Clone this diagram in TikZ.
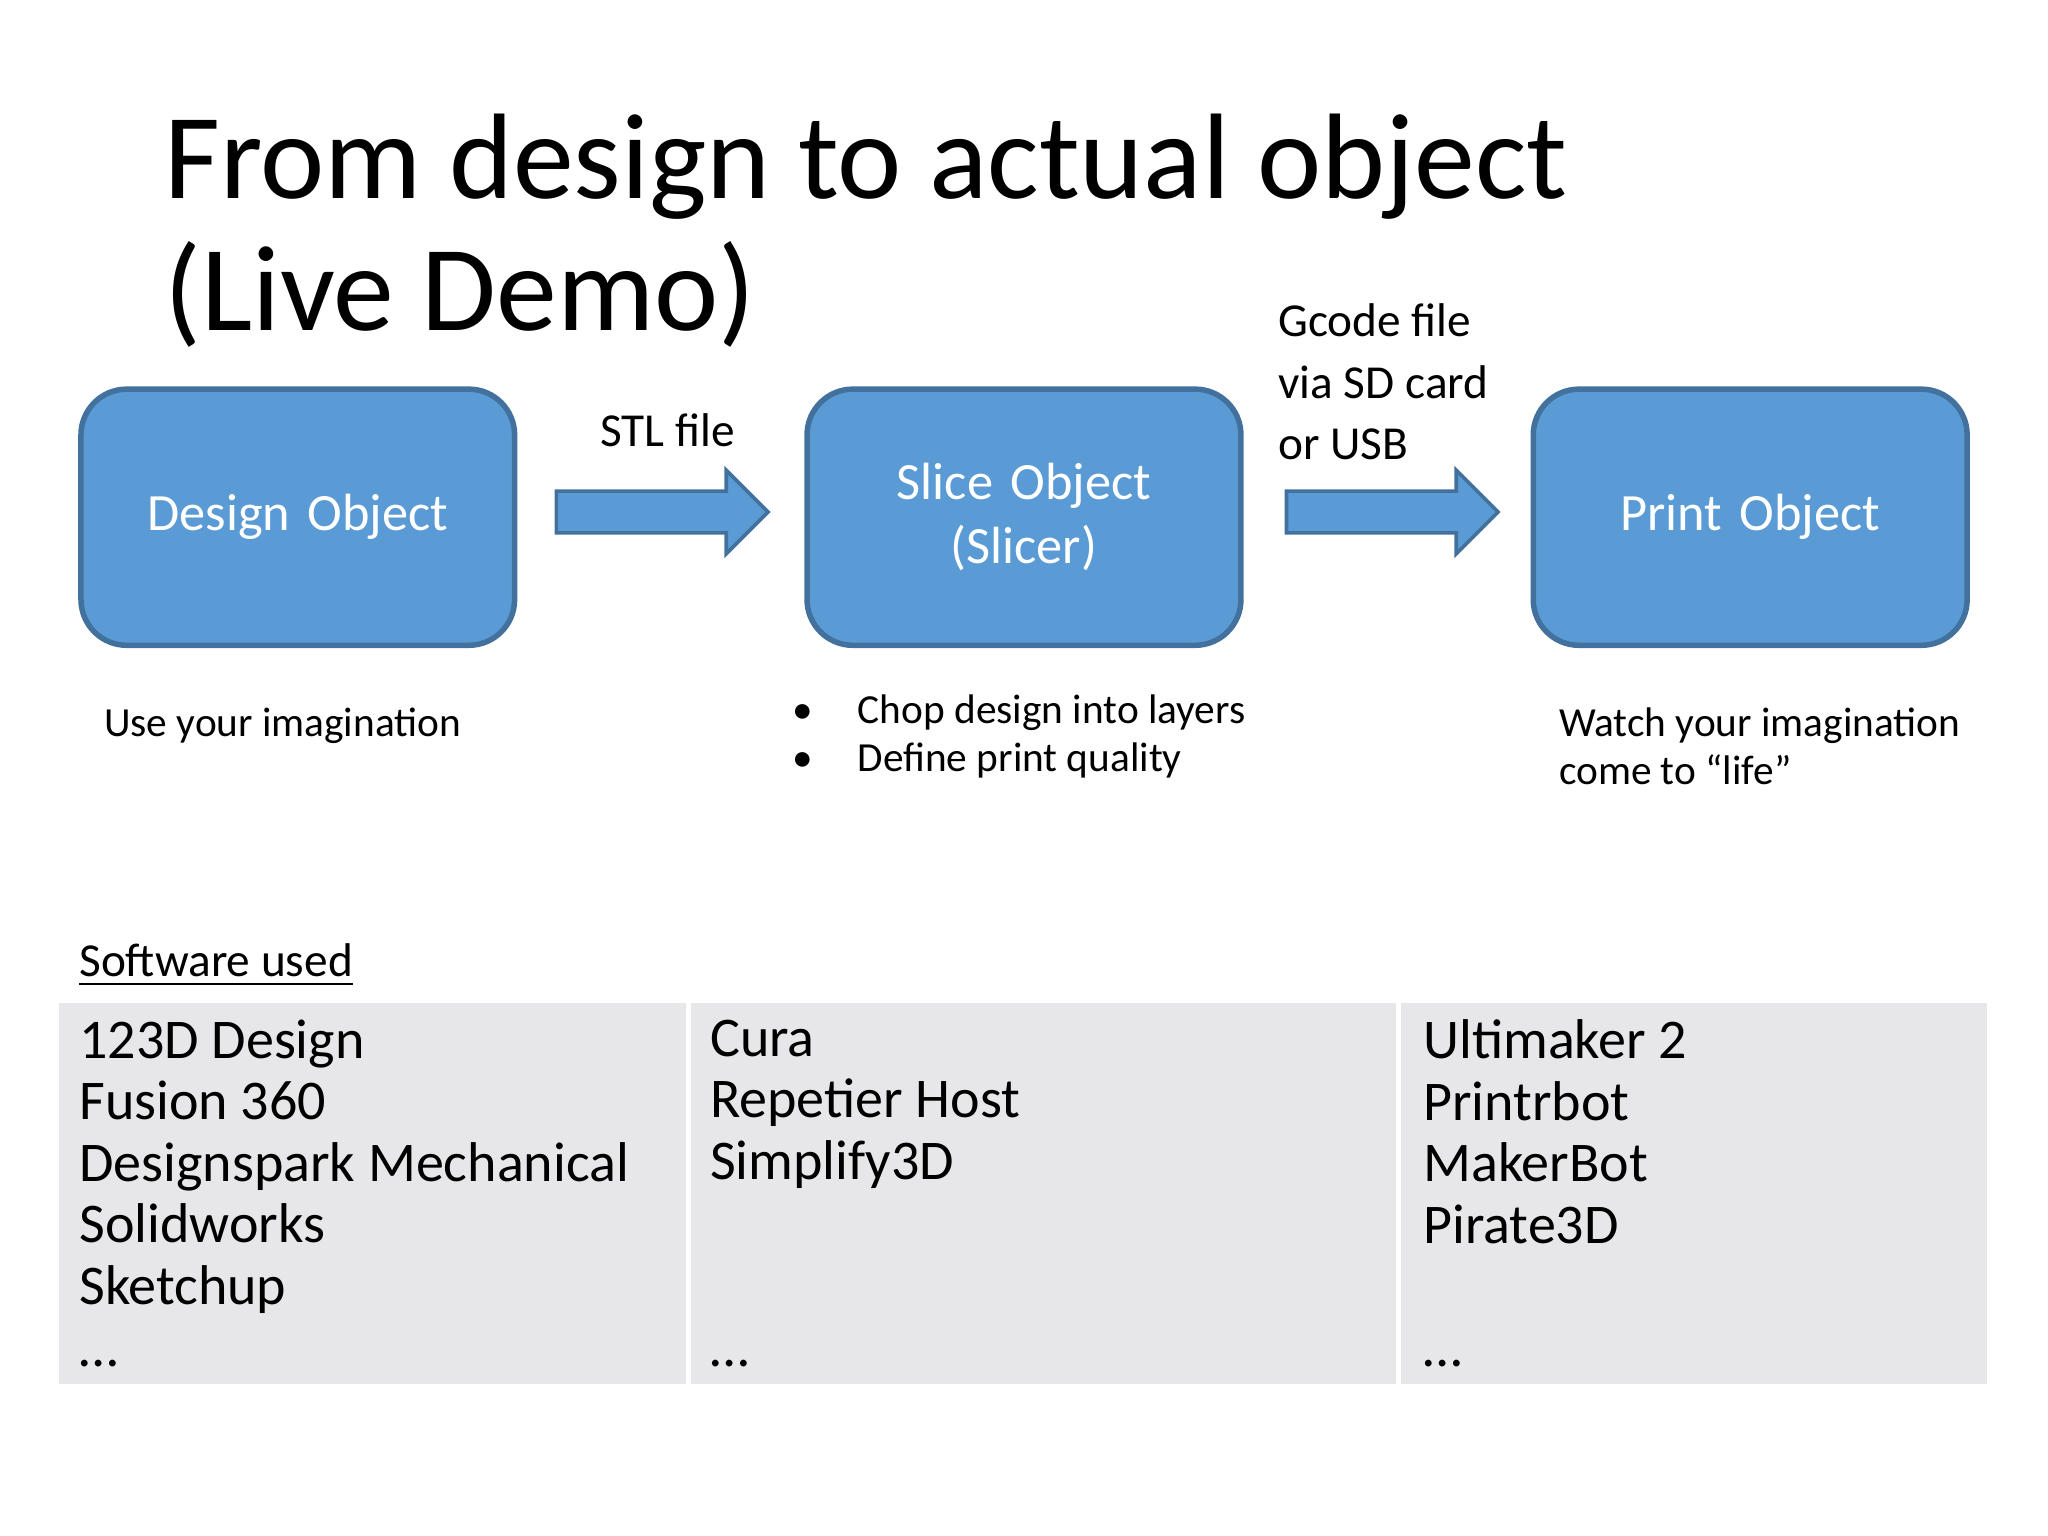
\documentclass[tikz,border=0pt]{standalone}
\usepackage{fontspec}
\setmainfont{Carlito}
\begin{document}
\begin{tikzpicture}[x=0.01cm,y=-0.01cm,
  box/.style={draw=blue!30!black!60!cyan!40!gray,line width=1.2pt,fill=boxblue,rounded corners=0.35cm,text=white,font=\fontsize{11.4}{14}\selectfont,align=center,inner sep=0pt},
  arr/.style={fill=boxblue,draw=edgeblue,line width=0.8pt},
  lbl/.style={anchor=base west,inner sep=0pt,font=\fontsize{9}{11}\selectfont},
  tbl/.style={anchor=north west,inner sep=0pt,align=left,font=\fontsize{12.2}{13.4}\selectfont}]
\definecolor{boxblue}{HTML}{5B9BD5}
\definecolor{edgeblue}{HTML}{41719C}
\definecolor{tblgray}{HTML}{E7E6E8}
\useasboundingbox (0,0) rectangle (1568,1176);
\fill[white] (0,0) rectangle (1568,1176);
\node[anchor=base west,inner sep=0pt,font=\fontsize{26.5}{30}\selectfont] (t1) at (125,152) {From design to actual object};
\node[anchor=base west,inner sep=0pt,font=\fontsize{26.5}{30}\selectfont] (t2) at (125,253) {(Live Demo)};
\node[box,draw=edgeblue,minimum width=332\pgflinewidth/\pgflinewidth*0.01cm,minimum height=1.96cm,text width=3.2cm] (d) at (228,396) {Design Object};
\node[box,draw=edgeblue,minimum width=3.32cm,minimum height=1.96cm,text width=3.2cm] (s) at (784,396) {Slice Object\\(Slicer)};
\node[box,draw=edgeblue,minimum width=3.32cm,minimum height=1.96cm,text width=3.2cm] (p) at (1340,396) {Print Object};
\draw[arr] (426,376) -- (556,376) -- (556,360) -- (588,392) -- (556,424) -- (556,408) -- (426,408) -- cycle;
\draw[arr] (985,376) -- (1115,376) -- (1115,360) -- (1147,392) -- (1115,424) -- (1115,408) -- (985,408) -- cycle;
\node[anchor=base west,inner sep=0pt,font=\fontsize{10.3}{12}\selectfont] (stl) at (459,342) {STL file};
\node[anchor=north west,inner sep=0pt,align=left,font=\fontsize{10.3}{13.4}\selectfont] (gc) at (978,232) {Gcode file\\via SD card\\or USB};
\node[lbl] (u1) at (79,564) {Use your imagination};
\node[lbl] (b1) at (606,554) {•};
\node[lbl] (b2) at (606,591) {•};
\node[lbl] (c1) at (656,554) {Chop design into layers};
\node[lbl] (c2) at (656,591) {Define print quality};
\node[lbl] (w1) at (1193,564) {Watch your imagination};
\node[lbl] (w2) at (1193,601) {come to “life”};
\node[anchor=base west,inner sep=0pt,font=\fontsize{10.3}{12}\selectfont] (sw) at (60,748) {\underline{Software used}};
\fill[tblgray] (45,768) rectangle (1521,1060);
\fill[white] (525,768) rectangle (529,1060);
\fill[white] (1069,768) rectangle (1073,1060);
\node[tbl] (col1) at (60,780) {123D Design\\Fusion 360\\Designspark Mechanical\\Solidworks\\Sketchup};
\node[tbl] (col2) at (543,780) {Cura\\Repetier Host\\Simplify3D};
\node[tbl] (col3) at (1089,780) {Ultimaker 2\\Printrbot\\MakerBot\\Pirate3D};
\node[anchor=base west,inner sep=0pt,font=\fontsize{12.2}{14}\selectfont] (e1) at (60,1046) {…};
\node[anchor=base west,inner sep=0pt,font=\fontsize{12.2}{14}\selectfont] (e2) at (543,1046) {…};
\node[anchor=base west,inner sep=0pt,font=\fontsize{12.2}{14}\selectfont] (e3) at (1089,1046) {…};
\end{tikzpicture}
\end{document}
